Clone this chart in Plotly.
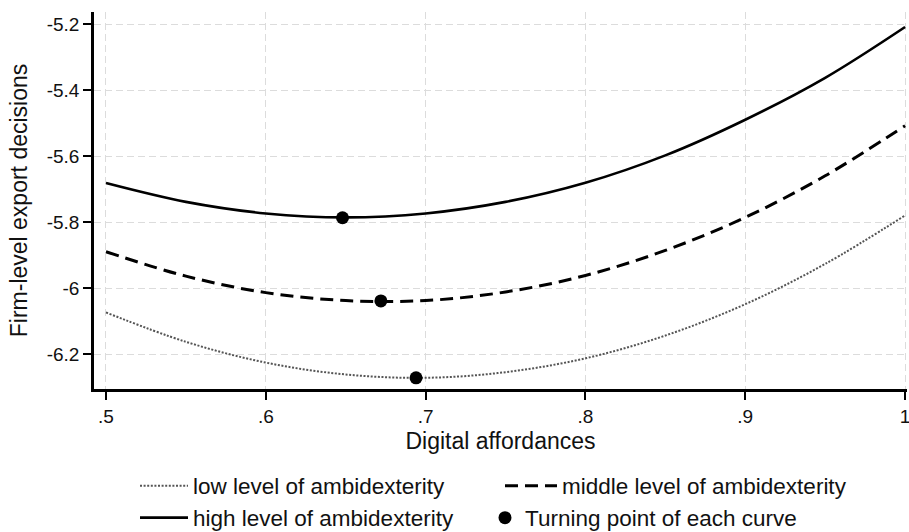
import plotly.graph_objects as go

# ---- data ----
x_vals = [0.50, 0.55, 0.60, 0.65, 0.70, 0.75, 0.80, 0.85, 0.90, 0.95, 1.00]
low_amb = [-6.074, -6.163, -6.226, -6.262, -6.272, -6.255, -6.213, -6.144, -6.049, -5.927, -5.780]
mid_amb = [-5.890, -5.964, -6.014, -6.038, -6.038, -6.012, -5.962, -5.886, -5.786, -5.660, -5.508]
high_amb = [-5.682, -5.739, -5.774, -5.786, -5.774, -5.739, -5.681, -5.598, -5.490, -5.363, -5.209]
turn_x = [0.694, 0.672, 0.648]
turn_y = [-6.272, -6.039, -5.787]

series_names = ["low level of ambidexterity", "middle level of ambidexterity",
                "high level of ambidexterity", "Turning point of each curve"]

x_tickvals = [0.5, 0.6, 0.7, 0.8, 0.9, 1.0]
x_ticktext = [".5", ".6", ".7", ".8", ".9", "1"]
y_tickvals = [-5.2, -5.4, -5.6, -5.8, -6.0, -6.2]
y_ticktext = ["-5.2", "-5.4", "-5.6", "-5.8", "-6", "-6.2"]

FONT = "Liberation Sans, Arial, Helvetica, sans-serif"
TXT = "#111111"

fig = go.Figure()
fig.add_trace(go.Scatter(x=x_vals, y=low_amb, mode="lines", name=series_names[0],
                         line=dict(color="#555555", width=2, dash="2px,1.6px", shape="spline"),
                         legend="legend"))
fig.add_trace(go.Scatter(x=x_vals, y=mid_amb, mode="lines", name=series_names[1],
                         line=dict(color="black", width=3, dash="13px,7px", shape="spline"),
                         legend="legend2"))
fig.add_trace(go.Scatter(x=x_vals, y=high_amb, mode="lines", name=series_names[2],
                         line=dict(color="black", width=2.6, shape="spline"),
                         legend="legend3"))
fig.add_trace(go.Scatter(x=turn_x, y=turn_y, mode="markers", name=series_names[3],
                         marker=dict(color="black", size=13, symbol="circle"),
                         legend="legend4"))

W, H = 909, 532
ML, MR, MT, MB = 94, 2, 12, 143
pw, ph = W - ML - MR, H - MT - MB


def px(xpic):
    return (xpic - ML) / pw


def py(ypic):
    return (H - MB - ypic) / ph


leg_common = dict(bgcolor="rgba(0,0,0,0)", borderwidth=0, xanchor="left", yanchor="middle",
                  font=dict(family=FONT, size=22.5, color=TXT), itemwidth=48,
                  tracegroupgap=0)

axis_common = dict(showgrid=True, gridcolor="#dcdcdc", gridwidth=1, griddash="7px,4px",
                   zeroline=False, showline=True, linecolor="black", linewidth=2.5,
                   ticks="outside", ticklen=8, tickwidth=1.5, tickcolor="black",
                   tickfont=dict(family=FONT, size=19, color=TXT), mirror=False,
                   ticklabeloverflow="allow")

fig.update_layout(
    width=W, height=H,
    margin=dict(l=ML, r=MR, t=MT, b=MB, autoexpand=False),
    paper_bgcolor="white", plot_bgcolor="white",
    font=dict(family=FONT, color=TXT),
    xaxis=dict(range=[0.4925, 1.0012], tickvals=x_tickvals, ticktext=x_ticktext,
               title=dict(text="Digital affordances", font=dict(family=FONT, size=23, color=TXT),
                          standoff=8),
               automargin=False, **axis_common),
    yaxis=dict(range=[-6.306, -5.1636], tickvals=y_tickvals, ticktext=y_ticktext,
               title=dict(text="Firm-level export decisions", font=dict(family=FONT, size=23, color=TXT),
                          standoff=13),
               automargin=False, **axis_common),
    legend=dict(x=px(135), y=py(486), **leg_common),
    legend2=dict(x=px(500), y=py(486), **{**leg_common, "itemwidth": 52}),
    legend3=dict(x=px(135), y=py(518), **leg_common),
    legend4=dict(x=px(485), y=py(518), **{**leg_common, "itemwidth": 30}),
    showlegend=True,
)

# remove the browser's default page margin so the figure fills the window
fig.write_html(
    "out.html",
    config={"displayModeBar": False},
    post_script=("document.body.style.margin='0';"
                 "document.body.style.overflow='hidden';"
                 "document.documentElement.style.overflow='hidden';"),
)
